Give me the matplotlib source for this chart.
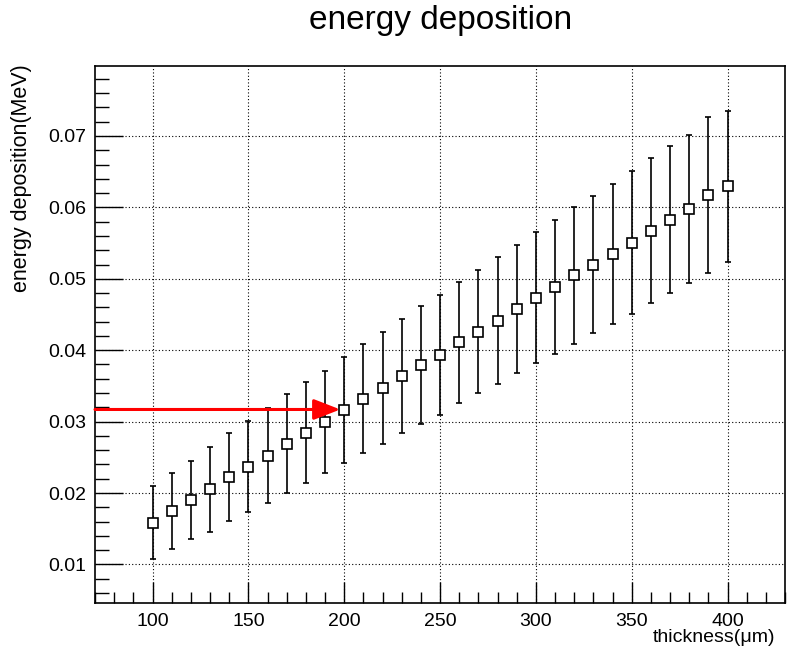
import matplotlib
matplotlib.use("Agg")
import matplotlib.pyplot as plt
from matplotlib.ticker import MultipleLocator

plt.rcParams['font.family'] = ['Liberation Sans', 'DejaVu Sans']

thickness = [100, 110, 120, 130, 140, 150, 160, 170, 180, 190, 200,
             210, 220, 230, 240, 250, 260, 270, 280, 290, 300,
             310, 320, 330, 340, 350, 360, 370, 380, 390, 400]
energy = [0.01585, 0.0175, 0.0190, 0.0205, 0.02225, 0.0237, 0.02525, 0.0269, 0.02845, 0.02995, 0.03165,
          0.0332, 0.0347, 0.0364, 0.0379, 0.03935, 0.0411, 0.0426, 0.0441, 0.04575, 0.04735,
          0.04885, 0.0505, 0.0520, 0.0535, 0.05505, 0.05675, 0.05825, 0.05975, 0.06175, 0.06295]
energy_err = [0.0051, 0.0053, 0.0055, 0.0059, 0.0061, 0.0064, 0.0067, 0.0069, 0.0071, 0.0072, 0.0074,
              0.0076, 0.0078, 0.0080, 0.0083, 0.0084, 0.0085, 0.0086, 0.0089, 0.0090, 0.0092,
              0.0094, 0.0096, 0.0096, 0.0098, 0.0100, 0.0101, 0.0103, 0.0104, 0.0109, 0.0106]

arrow_start_x = 70
arrow_end_x = 198
arrow_y = 0.0317

title = "energy deposition"
xlabel = "thickness(\u03bcm)"
ylabel = "energy deposition(MeV)"

fig = plt.figure(figsize=(7.89, 6.53), dpi=100)
ax = fig.add_axes([95/789, 1-603/653, (785-95)/789, (603-66)/653])

ax.set_xlim(70, 430)
ax.set_ylim(0.0046, 0.0798)

ax.xaxis.set_major_locator(MultipleLocator(50))
ax.xaxis.set_minor_locator(MultipleLocator(10))
ax.yaxis.set_major_locator(MultipleLocator(0.01))
ax.yaxis.set_minor_locator(MultipleLocator(0.002))
ax.yaxis.set_major_formatter(matplotlib.ticker.FuncFormatter(lambda v, p: f"{v:.2f}"))

ax.tick_params(which='both', direction='in', top=False, right=False, labelsize=14, width=1, color='black')
ax.tick_params(axis='y', which='major', length=20, pad=6)
ax.tick_params(axis='y', which='minor', length=10)
ax.tick_params(axis='x', which='major', length=15, pad=7)
ax.tick_params(axis='x', which='minor', length=8)

ax.grid(True, which='major', color='black', linestyle=(0, (1, 2)), linewidth=0.8)
ax.set_axisbelow(True)
for s in ax.spines.values():
    s.set_linewidth(1.2)

ax.errorbar(thickness, energy, yerr=energy_err, fmt='s', color='black',
            ecolor='black', elinewidth=1.2, capsize=2.5, capthick=1.2,
            markersize=7, markerfacecolor='white', markeredgecolor='black',
            markeredgewidth=1.2, zorder=3)

ax.annotate('', xy=(arrow_end_x, arrow_y), xytext=(arrow_start_x, arrow_y),
            arrowprops=dict(arrowstyle='-|>,head_length=0.9,head_width=0.35',
                            color='red', lw=2.2, mutation_scale=18,
                            shrinkA=0, shrinkB=0), zorder=4)

fig.text(441/789, 1-21/653, title, fontsize=24, ha='center', va='center')
fig.text(775/789, 1-638/653, xlabel, fontsize=14, ha='right', va='center')
fig.text(22/789, 1-64/653, ylabel, fontsize=15.5, ha='center', va='top', rotation=90)

fig.savefig('out.png', dpi=100)
